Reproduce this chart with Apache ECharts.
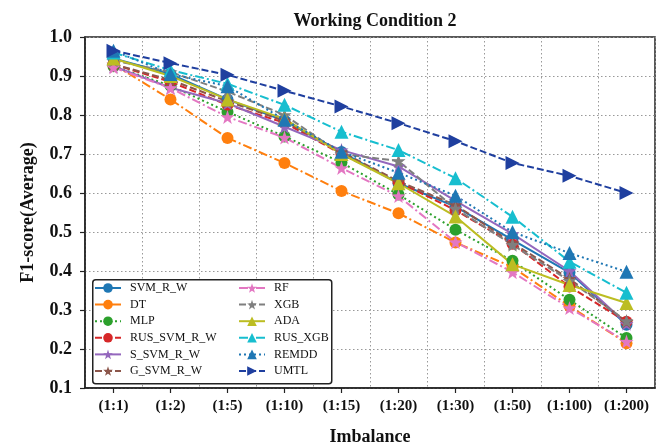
<!DOCTYPE html>
<html>
<head>
<meta charset="utf-8">
<script src="https://cdn.jsdelivr.net/npm/echarts@6/dist/echarts.min.js"></script>
<style>html,body{margin:0;padding:0;background:#fff;}#c{width:656px;height:445px;}</style>
</head>
<body>
<div id="c"></div>
<script>
const categories = ['(1:1)','(1:2)','(1:5)','(1:10)','(1:15)','(1:20)','(1:30)','(1:50)','(1:100)','(1:200)'];
const yTicks = [0.1,0.2,0.3,0.4,0.5,0.6,0.7,0.8,0.9,1.0];
const SVM_R_W     = [0.945, 0.905, 0.840, 0.785, 0.705, 0.625, 0.565, 0.480, 0.396, 0.262];
const DT          = [0.930, 0.840, 0.741, 0.677, 0.605, 0.548, 0.473, 0.410, 0.310, 0.215];
const MLP         = [0.925, 0.875, 0.808, 0.745, 0.678, 0.596, 0.506, 0.426, 0.326, 0.228];
const RUS_SVM_R_W = [0.930, 0.885, 0.826, 0.780, 0.700, 0.628, 0.556, 0.470, 0.360, 0.270];
const S_SVM_R_W   = [0.925, 0.870, 0.830, 0.770, 0.710, 0.668, 0.580, 0.495, 0.400, 0.265];
const G_SVM_R_W   = [0.930, 0.890, 0.835, 0.785, 0.705, 0.630, 0.569, 0.472, 0.380, 0.270];
const RF          = [0.922, 0.869, 0.795, 0.742, 0.664, 0.592, 0.474, 0.397, 0.305, 0.219];
const XGB         = [0.940, 0.910, 0.860, 0.800, 0.700, 0.682, 0.560, 0.467, 0.375, 0.272];
const ADA         = [0.945, 0.900, 0.840, 0.790, 0.700, 0.625, 0.540, 0.417, 0.364, 0.318];
const RUS_XGB     = [0.960, 0.915, 0.880, 0.826, 0.757, 0.710, 0.638, 0.539, 0.424, 0.344];
const REMDD       = [0.965, 0.905, 0.874, 0.788, 0.706, 0.652, 0.593, 0.500, 0.446, 0.398];
const UMTL        = [0.965, 0.933, 0.903, 0.862, 0.822, 0.779, 0.733, 0.677, 0.644, 0.600];

const FONT = 'Liberation Serif';
const STAR = 'path://M0,-10 L2.35,-3.24 L9.51,-3.09 L3.80,1.24 L5.88,8.09 L0,4 L-5.88,8.09 L-3.80,1.24 L-9.51,-3.09 L-2.35,-3.24 Z';
const DASH = [7,3], DASHDOT = [9,3,2,3], DOT = [2,3];

const defs = [
  ['SVM_R_W', SVM_R_W, '#1f77b4', 'solid', 'circle', 12, 0],
  ['DT', DT, '#ff7f0e', DASHDOT, 'circle', 12, 0],
  ['MLP', MLP, '#2ca02c', DOT, 'circle', 12, 0],
  ['RUS_SVM_R_W', RUS_SVM_R_W, '#d62728', DASH, 'circle', 12, 0],
  ['S_SVM_R_W', S_SVM_R_W, '#9467bd', 'solid', STAR, 14, 0],
  ['G_SVM_R_W', G_SVM_R_W, '#8c564b', DASH, STAR, 14, 0],
  ['RF', RF, '#e377c2', DASHDOT, STAR, 14, 0],
  ['XGB', XGB, '#7f7f7f', DASH, STAR, 14, 0],
  ['ADA', ADA, '#bcbd22', 'solid', 'triangle', 14, 0],
  ['RUS_XGB', RUS_XGB, '#17becf', DASHDOT, 'triangle', 14, 0],
  ['REMDD', REMDD, '#1f77b4', DOT, 'triangle', 14, 0],
  ['UMTL', UMTL, '#1f3f9f', DASH, 'triangle', 14, -90]
];

const series = defs.map(d => ({
  name: d[0], type: 'line', data: d[1],
  symbol: d[4], symbolSize: d[5], symbolRotate: d[6],
  itemStyle: { color: d[2], opacity: 1 },
  lineStyle: { color: d[2], width: 2, type: d[3] },
  emphasis: { disabled: true }, animation: false
}));

const legendCommon = {
  orient: 'vertical', itemWidth: 26, itemHeight: 12, itemGap: 4.6, padding: 0,
  selectedMode: false,
  textStyle: { fontFamily: FONT, fontSize: 12, color: '#111', padding: [0,0,0,4] }
};

const chart = echarts.init(document.getElementById('c'));
chart.setOption({
  backgroundColor: '#fff',
  animation: false,
  title: { text: 'Working Condition 2', left: 370, top: 7, textAlign: 'center',
    textStyle: { fontFamily: FONT, fontWeight: 'bold', fontSize: 18, color: '#111' } },
  grid: { left: 85, right: 1, top: 37, bottom: 57, show: true, borderColor: '#222', borderWidth: 1.5,
    backgroundColor: 'transparent', containLabel: false, outerBoundsMode: 'none' },
  xAxis: {
    type: 'category', data: categories, boundaryGap: true,
    name: 'Imbalance', nameLocation: 'middle', nameGap: 40,
    nameTextStyle: { fontFamily: FONT, fontWeight: 'bold', fontSize: 18, color: '#111' },
    axisLine: { lineStyle: { color: '#222', width: 1.5 } },
    axisTick: { show: true, alignWithLabel: true, length: 5, lineStyle: { color: '#222', width: 1.2 } },
    axisLabel: { fontFamily: FONT, fontWeight: 'bold', fontSize: 15, color: '#111', margin: 11, interval: 0 },
    splitLine: { show: true, interval: 0, lineStyle: { color: '#999', type: [1.5,2.5], width: 1 } }
  },
  yAxis: {
    type: 'value', min: yTicks[0], max: yTicks[yTicks.length-1], interval: 0.1,
    name: 'F1-score(Average)', nameLocation: 'middle', nameGap: 48,
    nameTextStyle: { fontFamily: FONT, fontWeight: 'bold', fontSize: 18, color: '#111' },
    axisLine: { show: true, lineStyle: { color: '#222', width: 1.5 } },
    axisTick: { show: true, length: 5, lineStyle: { color: '#222', width: 1.2 } },
    axisLabel: { fontFamily: FONT, fontWeight: 'bold', fontSize: 18, color: '#111', margin: 13,
      formatter: v => v.toFixed(1) },
    splitLine: { show: true, lineStyle: { color: '#999', type: [1.5,2.5], width: 1 } }
  },
  legend: [
    Object.assign({ left: 94, top: 282, data: defs.slice(0,6).map(d => d[0]) }, legendCommon),
    Object.assign({ left: 238, top: 282, data: defs.slice(6).map(d => d[0]) }, legendCommon)
  ],
  graphic: [{
    type: 'rect', left: 92, top: 279, z: 1,
    shape: { width: 239, height: 104, r: 3 },
    style: { fill: '#fff', stroke: '#222', lineWidth: 1.5 }
  }],
  series: series
});
</script>
</body>
</html>
